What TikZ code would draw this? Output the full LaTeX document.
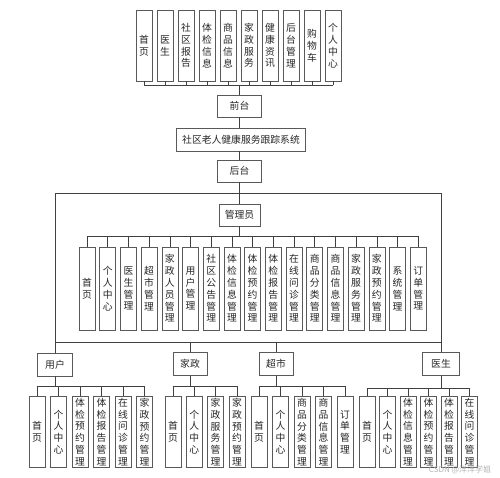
\documentclass[tikz,border=0pt]{standalone}
\usepackage{fontspec}
\newfontfamily\cjk{Noto Sans CJK SC}
\usetikzlibrary{positioning}

\tikzset{
  box/.style={draw=black!65,line width=.6pt,inner sep=0pt,align=center,fill=white,
    text=black!85,font=\cjk\fontsize{9.8}{11.8}\selectfont},
  vbox/.style={box,minimum width=16pt,minimum height=#1},
  vbox/.default=71pt,
  hbox/.style={box,minimum width=#1,minimum height=22pt},
  link/.style={draw=black!75,line width=.6pt},
}

\begin{document}
\begin{tikzpicture}[x=1pt,y=-1pt]
\useasboundingbox (0,0) rectangle (500,477);

% front end pages
\node[vbox] (t1) at (144,45.5) {首\\页};
\node[vbox] (t2) at (165,45.5) {医\\生};
\node[vbox] (t3) at (186,45.5) {社\\区\\报\\告};
\node[vbox] (t4) at (207,45.5) {体\\检\\信\\息};
\node[vbox] (t5) at (228,45.5) {商\\品\\信\\息};
\node[vbox] (t6) at (249,45.5) {家\\政\\服\\务};
\node[vbox] (t7) at (270,45.5) {健\\康\\资\\讯};
\node[vbox] (t8) at (291,45.5) {后\\台\\管\\理};
\node[vbox] (t9) at (312,45.5) {购\\物\\车};
\node[vbox] (t10) at (333,45.5) {个\\人\\中\\心};
\coordinate (tbus) at (239.5,85);

% spine
\node[hbox=44pt] (qt) at (239.5,106) {前台};
\node[hbox=129pt,minimum height=23pt] (sys) at (241,139.5) {社区老人健康服务跟踪系统};
\node[hbox=44pt] (ht) at (239.5,171) {后台};

\draw[link] (t1.south |- tbus) -- (t10.south |- tbus);
\foreach \i in {1,...,10} \draw[link] (t\i.south) -- (t\i.south |- tbus);
\draw[link] (tbus) -- (qt.north);
\draw[link] (qt.south) -- (qt.south |- sys.north);
\draw[link] (sys.south -| ht) -- (ht.north);

% admin frame
\node[draw=black!75,line width=.6pt,minimum width=386pt,minimum height=149pt] (frame) at (248,267.5) {};
\node[hbox=41pt] (gly) at (239.5,215) {管理员};
\draw[link] (ht.south) -- (gly.north);
\coordinate (abus) at (239.5,236);

\node[vbox=83pt] (a1) at (87,288.5) {首\\页};
\node[vbox=83pt] (a2) at (107.7,288.5) {个\\人\\中\\心};
\node[vbox=83pt] (a3) at (128.4,288.5) {医\\生\\管\\理};
\node[vbox=83pt] (a4) at (149.1,288.5) {超\\市\\管\\理};
\node[vbox=83pt] (a5) at (169.8,288.5) {家\\政\\人\\员\\管\\理};
\node[vbox=83pt] (a6) at (190.5,288.5) {用\\户\\管\\理};
\node[vbox=83pt] (a7) at (211.2,288.5) {社\\区\\公\\告\\管\\理};
\node[vbox=83pt] (a8) at (231.9,288.5) {体\\检\\信\\息\\管\\理};
\node[vbox=83pt] (a9) at (252.6,288.5) {体\\检\\预\\约\\管\\理};
\node[vbox=83pt] (a10) at (273.3,288.5) {体\\检\\报\\告\\管\\理};
\node[vbox=83pt] (a11) at (294,288.5) {在\\线\\问\\诊\\管\\理};
\node[vbox=83pt] (a12) at (314.7,288.5) {商\\品\\分\\类\\管\\理};
\node[vbox=83pt] (a13) at (335.4,288.5) {商\\品\\信\\息\\管\\理};
\node[vbox=83pt] (a14) at (356.1,288.5) {家\\政\\服\\务\\管\\理};
\node[vbox=83pt] (a15) at (376.8,288.5) {家\\政\\预\\约\\管\\理};
\node[vbox=83pt] (a16) at (397.5,288.5) {系\\统\\管\\理};
\node[vbox=83pt] (a17) at (418.2,288.5) {订\\单\\管\\理};

\draw[link] (gly.south) -- (abus);
\draw[link] (a1.north |- abus) -- (a17.north |- abus);
\foreach \i in {1,...,17} \draw[link] (a\i.north) -- (a\i.north |- abus);

% roles
\node[hbox=35pt,minimum height=23pt] (yh) at (55,364.5) {用户};
\node[hbox=34pt,minimum height=23pt] (jz) at (190,364) {家政};
\node[hbox=34pt,minimum height=23pt] (cs) at (276,364) {超市};
\node[hbox=37pt,minimum height=23pt] (ys) at (441,364) {医生};
\foreach \r in {yh,jz,cs,ys} \draw[link] (\r.north) -- (\r.north |- frame.south);

% user
\node[vbox] (u1) at (37,432) {首\\页};
\node[vbox] (u2) at (58.5,432) {个\\人\\中\\心};
\node[vbox] (u3) at (80,432) {体\\检\\预\\约\\管\\理};
\node[vbox] (u4) at (101.5,432) {体\\检\\报\\告\\管\\理};
\node[vbox] (u5) at (123,432) {在\\线\\问\\诊\\管\\理};
\node[vbox] (u6) at (144.5,432) {家\\政\\预\\约\\管\\理};
\coordinate (ubus) at (55,386);
\draw[link] (yh.south) -- (ubus);
\draw[link] (u1.north |- ubus) -- (u6.north |- ubus);
\foreach \i in {1,...,6} \draw[link] (u\i.north) -- (u\i.north |- ubus);

% housekeeping
\node[vbox] (j1) at (173,432) {首\\页};
\node[vbox] (j2) at (194.3,432) {个\\人\\中\\心};
\node[vbox] (j3) at (215.6,432) {家\\政\\服\\务\\管\\理};
\node[vbox] (j4) at (237,432) {家\\政\\预\\约\\管\\理};
\coordinate (jbus) at (190,386);
\draw[link] (jz.south) -- (jbus);
\draw[link] (j1.north |- jbus) -- (j4.north |- jbus);
\foreach \i in {1,...,4} \draw[link] (j\i.north) -- (j\i.north |- jbus);

% supermarket
\node[vbox] (s1) at (259,432) {首\\页};
\node[vbox] (s2) at (280.5,432) {个\\人\\中\\心};
\node[vbox] (s3) at (302,432) {商\\品\\分\\类\\管\\理};
\node[vbox] (s4) at (323.5,432) {商\\品\\信\\息\\管\\理};
\node[vbox] (s5) at (345,432) {订\\单\\管\\理};
\coordinate (sbus) at (276,386);
\draw[link] (cs.south) -- (sbus);
\draw[link] (s1.north |- sbus) -- (s5.north |- sbus);
\foreach \i in {1,...,5} \draw[link] (s\i.north) -- (s\i.north |- sbus);

% doctor
\node[vbox] (d1) at (367,432) {首\\页};
\node[vbox] (d2) at (387.5,432) {个\\人\\中\\心};
\node[vbox] (d3) at (408,432) {体\\检\\信\\息\\管\\理};
\node[vbox] (d4) at (428.5,432) {体\\检\\预\\约\\管\\理};
\node[vbox] (d5) at (449,432) {体\\检\\报\\告\\管\\理};
\node[vbox] (d6) at (469.5,432) {在\\线\\问\\诊\\管\\理};
\coordinate (dbus) at (441,388);
\draw[link] (ys.south) -- (dbus);
\draw[link] (d1.north |- dbus) -- (d6.north |- dbus);
\foreach \i in {1,...,6} \draw[link] (d\i.north) -- (d\i.north |- dbus);

\node[text=black!30,font=\cjk\fontsize{8}{8}\selectfont] (wm) at (460,470) {CSDN @洋洋学姐};
\end{tikzpicture}
\end{document}
